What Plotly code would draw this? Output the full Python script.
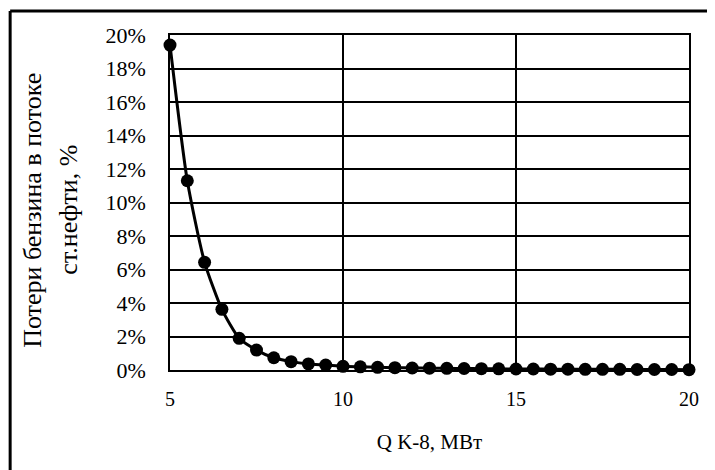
import plotly.graph_objects as go

# Q K-8, MW
q_mw = [5, 5.5, 6, 6.5, 7, 7.5, 8, 8.5, 9, 9.5, 10, 10.5, 11, 11.5, 12, 12.5,
        13, 13.5, 14, 14.5, 15, 15.5, 16, 16.5, 17, 17.5, 18, 18.5, 19, 19.5, 20]
# gasoline losses, share
losses = [0.1940, 0.1130, 0.0643, 0.0362, 0.0189, 0.0119, 0.0073, 0.0050, 0.0036,
          0.0030, 0.0022, 0.0019, 0.0016, 0.0014, 0.0012, 0.0011, 0.0010, 0.0009,
          0.0008, 0.0007, 0.0006, 0.0006, 0.0005, 0.0005, 0.0004, 0.0004, 0.0004,
          0.0003, 0.0003, 0.0003, 0.0002]

x_ticks = [5, 10, 15, 20]
y_ticks = [0, 0.02, 0.04, 0.06, 0.08, 0.10, 0.12, 0.14, 0.16, 0.18, 0.20]

FONT = "Times New Roman, Liberation Serif, DejaVu Serif, serif"

fig = go.Figure()
fig.add_trace(go.Scatter(
    x=q_mw, y=losses, mode="lines+markers",
    line=dict(color="black", width=3, shape="spline", smoothing=0.6),
    marker=dict(color="black", size=13),
    cliponaxis=False, hoverinfo="x+y",
))

# page has 8px body margin, so the figure is a bit smaller than the window
fig.update_layout(
    width=707, height=462,
    margin=dict(l=162, r=26, t=27, b=100),
    paper_bgcolor="white", plot_bgcolor="white",
    showlegend=False,
    font=dict(family=FONT, size=20, color="black"),
)
fig.update_xaxes(
    range=[5, 20], tickvals=x_ticks, showgrid=True, gridcolor="black", gridwidth=1.5,
    showline=True, linecolor="black", linewidth=1.5, mirror=True, zeroline=False,
    ticks="", ticklabelstandoff=10, tickfont=dict(family=FONT, size=20),
    title=dict(text="Q K-8, МВт", font=dict(family=FONT, size=21), standoff=26),
)
fig.update_yaxes(
    range=[0, 0.2], tickvals=y_ticks, tickformat=".0%", showgrid=True,
    gridcolor="black", gridwidth=1.5, showline=True, linecolor="black",
    linewidth=1.5, mirror=True, zeroline=False, ticks="", ticklabelstandoff=18,
    tickfont=dict(family=FONT, size=22),
)

# two-line y title
for xp, txt in [(-0.264, "Потери бензина в потоке"), (-0.195, "ст.нефти, %")]:
    fig.add_annotation(x=xp, y=0.478, xref="paper", yref="paper", text=txt,
                       textangle=-90, showarrow=False, xanchor="center",
                       yanchor="middle", font=dict(family=FONT, size=26))

# outer frame (left and top edges only)
fig.add_shape(type="line", xref="paper", yref="paper", x0=-0.308, x1=-0.308,
              y0=-0.4, y1=1.072, line=dict(color="black", width=3))
fig.add_shape(type="line", xref="paper", yref="paper", x0=-0.308, x1=1.1,
              y0=1.072, y1=1.072, line=dict(color="black", width=3))

fig.write_html("out.html")
